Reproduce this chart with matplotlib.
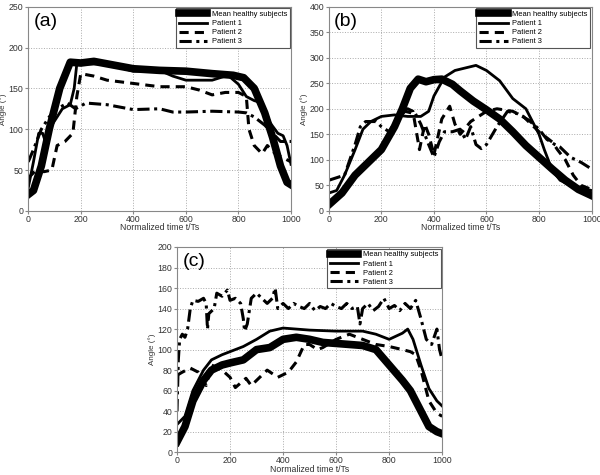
import matplotlib
matplotlib.use('Agg')
import matplotlib.pyplot as plt

plt.rcParams['font.family'] = ['Liberation Sans', 'DejaVu Sans']

# ---- panel (a) ----
a_mean_t = [0, 20, 50, 80, 120, 160, 200, 250, 300, 400, 500, 600, 700, 780, 820, 860, 900, 930, 960, 985, 1000]
a_mean_v = [20, 25, 55, 100, 150, 182, 181, 183, 180, 174, 172, 171, 168, 166, 163, 150, 120, 90, 55, 35, 32]
a_p1_t = [0, 20, 40, 55, 70, 90, 130, 160, 175, 185, 200, 300, 400, 500, 550, 600, 700, 760, 800, 830, 860, 890, 920, 950, 970, 985, 1000]
a_p1_v = [28, 60, 95, 95, 80, 105, 125, 130, 150, 180, 180, 180, 171, 172, 165, 160, 160, 166, 155, 140, 135, 132, 108, 95, 92, 80, 57]
a_p2_t = [0, 30, 60, 90, 110, 140, 170, 185, 200, 250, 300, 400, 500, 600, 650, 700, 750, 800, 830, 840, 860, 890, 910, 940, 970, 1000]
a_p2_v = [40, 50, 48, 50, 80, 85, 95, 140, 168, 165, 160, 156, 152, 152, 148, 142, 145, 145, 140, 100, 80, 70, 80, 70, 65, 60]
a_p3_t = [0, 20, 50, 80, 110, 150, 180, 220, 300, 400, 500, 550, 600, 700, 800, 830, 860, 900, 930, 960, 1000]
a_p3_v = [60, 75, 100, 115, 125, 132, 125, 132, 130, 124, 125, 121, 121, 122, 121, 120, 115, 105, 95, 85, 85]

# ---- panel (b) ----
b_mean_t = [0, 50, 100, 150, 200, 250, 280, 310, 340, 370, 400, 430, 470, 500, 550, 600, 650, 700, 750, 800, 850, 900, 950, 1000]
b_mean_v = [12, 35, 70, 95, 120, 165, 200, 240, 258, 253, 257, 258, 248, 235, 215, 198, 180, 155, 128, 105, 82, 60, 42, 30]
b_p1_t = [0, 30, 60, 100, 130, 160, 200, 250, 300, 350, 380, 400, 440, 480, 520, 560, 600, 650, 700, 750, 800, 820, 850, 880, 920, 1000]
b_p1_v = [35, 40, 70, 120, 160, 175, 185, 188, 185, 185, 195, 225, 262, 275, 280, 285, 275, 255, 220, 200, 150, 120, 80, 60, 50, 40]
b_p2_t = [0, 50, 100, 150, 200, 250, 270, 300, 320, 345, 365, 380, 400, 430, 460, 480, 500, 540, 600, 640, 700, 740, 760, 800, 850, 870, 900, 930, 960, 1000]
b_p2_v = [15, 40, 70, 95, 120, 165, 190, 200, 195, 120, 170, 150, 110, 180, 205, 170, 150, 175, 195, 200, 195, 185, 175, 155, 135, 120, 100, 70, 50, 42]
b_p3_t = [0, 30, 60, 100, 120, 140, 180, 200, 230, 260, 290, 330, 350, 380, 400, 420, 440, 470, 500, 520, 540, 560, 580, 600, 640, 680, 720, 760, 800, 830, 860, 880, 920, 960, 1000]
b_p3_v = [60, 65, 70, 130, 165, 175, 175, 165, 155, 180, 195, 190, 170, 130, 105, 135, 155, 155, 160, 140, 165, 130, 122, 130, 165, 195, 190, 178, 160, 140, 130, 125, 105, 95, 82]

# ---- panel (c) ----
c_mean_t = [0, 30, 60, 100, 130, 170, 200, 250, 300, 350, 400, 450, 500, 550, 600, 650, 700, 750, 800, 850, 880, 920, 950, 980, 1000]
c_mean_v = [10, 25, 50, 70, 80, 85, 87, 90, 100, 102, 110, 112, 110, 107, 106, 105, 104, 100, 85, 70, 60, 40, 25, 20, 18]
c_p1_t = [0, 30, 60, 100, 130, 170, 200, 250, 300, 350, 400, 500, 600, 700, 750, 800, 850, 870, 890, 920, 950, 980, 1000]
c_p1_v = [27, 35, 60, 80, 90, 95, 98, 103, 110, 118, 121, 119, 118, 118, 115, 110, 116, 120, 110, 85, 62, 50, 45]
c_p2_t = [0, 20, 50, 80, 110, 130, 170, 200, 220, 260, 280, 300, 340, 380, 420, 450, 480, 500, 530, 550, 600, 650, 700, 750, 800, 850, 880, 900, 920, 950, 980, 1000]
c_p2_v = [75, 78, 82, 78, 65, 85, 80, 73, 63, 72, 65, 70, 80, 73, 78, 88, 105, 105, 100, 102, 110, 115, 110, 105, 103, 100, 98, 95, 80, 50, 38, 35]
c_p3_t = [0, 5, 10, 20, 30, 40, 50, 60, 80, 100, 110, 115, 120, 140, 150, 170, 190, 200, 220, 240, 250, 255, 265, 280, 300,
          320, 340, 360, 370, 380, 400, 420, 440, 460, 480, 500, 520, 540, 560, 580, 600, 620, 640, 660, 680, 690, 700,
          720, 740, 760, 780, 800, 820, 840, 860, 880, 900, 920, 940, 960, 980, 990, 1000]
c_p3_v = [40, 90, 110, 115, 112, 120, 140, 148, 147, 150, 145, 120, 135, 140, 155, 152, 158, 148, 150, 145, 130, 118, 125, 150, 155,
          150, 145, 150, 160, 140, 145, 140, 145, 142, 140, 145, 138, 142, 140, 145, 142, 140, 145, 140, 142, 125, 140,
          145, 138, 142, 150, 140, 143, 138, 145, 140, 148, 130, 110, 105, 120, 100, 90]

labels = ['Mean healthy subjects', 'Patient 1', 'Patient 2', 'Patient 3']
x_ticks = [0, 200, 400, 600, 800, 1000]
a_yticks = [0, 50, 100, 150, 200, 250]
b_yticks = [0, 50, 100, 150, 200, 250, 300, 350, 400]
c_yticks = [0, 20, 40, 60, 80, 100, 120, 140, 160, 180, 200]

panels = [
    ('(a)', a_yticks, [(a_mean_t, a_mean_v), (a_p1_t, a_p1_v), (a_p2_t, a_p2_v), (a_p3_t, a_p3_v)]),
    ('(b)', b_yticks, [(b_mean_t, b_mean_v), (b_p1_t, b_p1_v), (b_p2_t, b_p2_v), (b_p3_t, b_p3_v)]),
    ('(c)', c_yticks, [(c_mean_t, c_mean_v), (c_p1_t, c_p1_v), (c_p2_t, c_p2_v), (c_p3_t, c_p3_v)]),
]
rects = [[0.047, 0.556, 0.438, 0.430],
         [0.548, 0.556, 0.438, 0.430],
         [0.295, 0.048, 0.442, 0.432]]
styles = [dict(lw=5.5, ls='-'),
          dict(lw=2.0, ls='-'),
          dict(lw=2.2, ls=(0, (3, 2))),
          dict(lw=2.2, ls=(0, (4, 1.5, 1, 1.5)))]

fig = plt.figure(figsize=(6, 4.75), dpi=100)
for (tag, yticks, series), rect in zip(panels, rects):
    ax = fig.add_axes(rect)
    for (t, v), st, lab in zip(series, styles, labels):
        ax.plot(t, v, color='black', label=lab, **st)
    ax.set_xlim(0, 1000)
    ax.set_ylim(yticks[0], yticks[-1])
    ax.set_xticks(x_ticks)
    ax.set_yticks(yticks)
    ax.grid(True, ls=':', color='#aaaaaa', lw=0.7)
    for s in ax.spines.values():
        s.set_color('#888888')
        s.set_linewidth(0.8)
    ax.tick_params(labelsize=6.3, length=2, color='#888888', labelcolor='#333333', pad=1.5)
    ax.tick_params(axis='x', pad=1)
    ax.set_xlabel('Normalized time t/Ts', fontsize=6.3, labelpad=-0.5, color='#333333')
    ax.set_ylabel('Angle (°)', fontsize=5.8, labelpad=1, color='#333333')
    ax.text(0.02, 0.97, tag, transform=ax.transAxes, fontsize=14, va='top', ha='left')
    leg = ax.legend(loc='upper right', fontsize=5.4, handlelength=3.8, borderaxespad=0.2,
                    labelspacing=0.25, fancybox=False, framealpha=1, borderpad=0.35, handletextpad=0.6)
    leg.get_frame().set_edgecolor('#555555')
    leg.get_frame().set_linewidth(0.8)

fig.savefig('out.png', dpi=100)
